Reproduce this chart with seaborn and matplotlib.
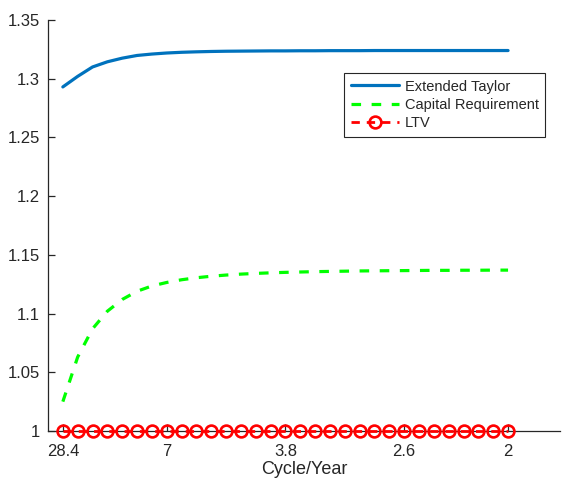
import numpy as np
import pandas as pd
import matplotlib
matplotlib.use("Agg")
import matplotlib.pyplot as plt
import matplotlib.ticker as ticker
import seaborn as sns

# data (31 frequency points)
tick_pos = [0, 7, 15, 23, 30]
tick_labels = ['28.4', '7', '3.8', '2.6', '2']

extended_taylor = [1.293, 1.302, 1.310, 1.3144, 1.3175, 1.3198, 1.3210, 1.3219,
                   1.3225, 1.3229, 1.3232, 1.3234, 1.3235, 1.3236, 1.3237, 1.3237,
                   1.3238, 1.3238, 1.3239, 1.3239, 1.3239, 1.3240, 1.3240, 1.3240,
                   1.3240, 1.3240, 1.3240, 1.3240, 1.3240, 1.3240, 1.3240]
capital_req = [1.025, 1.063, 1.087, 1.102, 1.112, 1.119, 1.1235, 1.1265,
               1.1288, 1.1305, 1.1318, 1.1328, 1.1336, 1.1342, 1.1347, 1.1351,
               1.1354, 1.1357, 1.1359, 1.1361, 1.1363, 1.1364, 1.1365, 1.1366,
               1.1367, 1.1368, 1.1368, 1.1369, 1.1369, 1.1370, 1.1370]
ltv = [1.0] * 31

x = np.arange(len(ltv))

sns.set_style("white")
plt.rcParams['font.family'] = ['Liberation Sans', 'DejaVu Sans']

fig = plt.figure(figsize=(5.62, 4.80), dpi=100)
ax = fig.add_axes([48/562, 1 - 431/480, 512/562, 411/480])

sns.lineplot(x=x, y=extended_taylor, ax=ax, color='#0072BD', linewidth=2.3,
             label='Extended Taylor')
sns.lineplot(x=x, y=capital_req, ax=ax, color='#00FF00', linewidth=2.3,
             linestyle=(0, (3, 3.3)), label='Capital Requirement')
sns.lineplot(x=x, y=ltv, ax=ax, color='#FF0000', linewidth=2.0,
             linestyle=(0, (3, 2.5)), marker='o', markersize=8.5,
             markerfacecolor='none', markeredgecolor='#FF0000',
             markeredgewidth=1.9, label='LTV', clip_on=False, zorder=3)

ax.set_xlim(-1, 33.5)
ax.set_ylim(1.0, 1.35)
ax.set_yticks(np.arange(1.0, 1.351, 0.05))
ax.yaxis.set_major_formatter(ticker.FuncFormatter(lambda v, p: f'{v:g}'))
ax.set_xticks(tick_pos)
ax.set_xticklabels(tick_labels)
ax.set_xlabel('Cycle/Year', fontsize=13, color='#262626', labelpad=2)

for s in ['top', 'right']:
    ax.spines[s].set_visible(False)
for s in ['left', 'bottom']:
    ax.spines[s].set_color('#262626')
    ax.spines[s].set_linewidth(0.9)
ax.tick_params(left=True, bottom=True, direction='in', length=5, width=0.9,
               colors='#262626', labelsize=12)
ax.tick_params(axis='y', pad=6)
ax.tick_params(axis='x', pad=9)

leg = ax.legend(loc='upper right', bbox_to_anchor=(0.971, 0.871),
                borderaxespad=0, fontsize=10.5, fancybox=False,
                handlelength=3.3, handletextpad=0.4, labelspacing=0.3,
                borderpad=0.45, framealpha=1)
leg.get_frame().set_edgecolor('#262626')
leg.get_frame().set_linewidth(0.8)

fig.savefig('out.png', dpi=100)
